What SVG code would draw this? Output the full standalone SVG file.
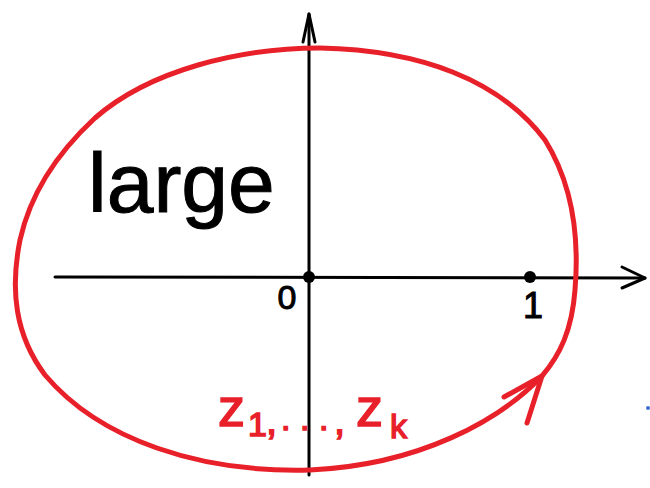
<svg xmlns="http://www.w3.org/2000/svg" width="650" height="488" viewBox="0 0 650 488">
<style>
.ax{stroke:#000;stroke-width:3;fill:none;stroke-linecap:round;stroke-linejoin:round}
.red{stroke:#e8202a;stroke-width:5;fill:none;stroke-linecap:round;stroke-linejoin:round}
.blk{font-family:"Liberation Sans",Arial,sans-serif;fill:#000}
.rt{font-family:"Liberation Sans",Arial,sans-serif;fill:#e8202a;stroke:#e8202a;stroke-width:1.5}
</style>
<rect width="650" height="488" fill="#fff"/>
<g id="axes">
<path class="ax" d="M55,277 L645,278"/>
<path class="ax" d="M622,267 L645,278 L622,288"/>
<path class="ax" d="M309,475 L309,14"/>
<path class="ax" d="M303,42 L309,14 L315,42"/>
</g>
<g id="curve">
<path class="red" d="M95,118 C150,70 240,48 320,48 C420,50 500,80 545,140 C570,180 580,230 575,290 C572,330 560,355 542,376 C500,420 420,465 310,470 C200,473 100,440 45,375 C15,335 10,290 20,240 C30,195 55,155 95,118 Z"/>
<path class="red" d="M504,397 L542,376 L527,423"/>
</g>
<g id="origin">
<circle cx="309" cy="277" r="6" fill="#000"/>
<text class="blk" x="287" y="309" font-size="34" text-anchor="middle" stroke="#000" stroke-width="1">0</text>
</g>
<g id="one">
<circle cx="530" cy="277" r="6" fill="#000"/>
<text class="blk" x="533" y="318" font-size="36" text-anchor="middle" stroke="#000" stroke-width="1">1</text>
</g>
<g id="label-large">
<text class="blk" x="88" y="212" font-size="84" stroke="#000" stroke-width="1">large</text>
</g>
<g id="label-z">
<text class="rt" x="218" y="426" font-size="54">z</text>
<text class="rt" x="248" y="436" font-size="34">1</text>
<text class="rt" x="266" y="434" font-size="40">,</text>
<text class="rt" x="281" y="430" font-size="34">.</text>
<text class="rt" x="300" y="430" font-size="34">.</text>
<text class="rt" x="319" y="430" font-size="34">.</text>
<text class="rt" x="334" y="434" font-size="40">,</text>
<text class="rt" x="356" y="426" font-size="54">z</text>
<text class="rt" x="390" y="438" font-size="34">k</text>
</g>
<circle cx="648" cy="408" r="2" fill="#3b6fd0"/>
</svg>
